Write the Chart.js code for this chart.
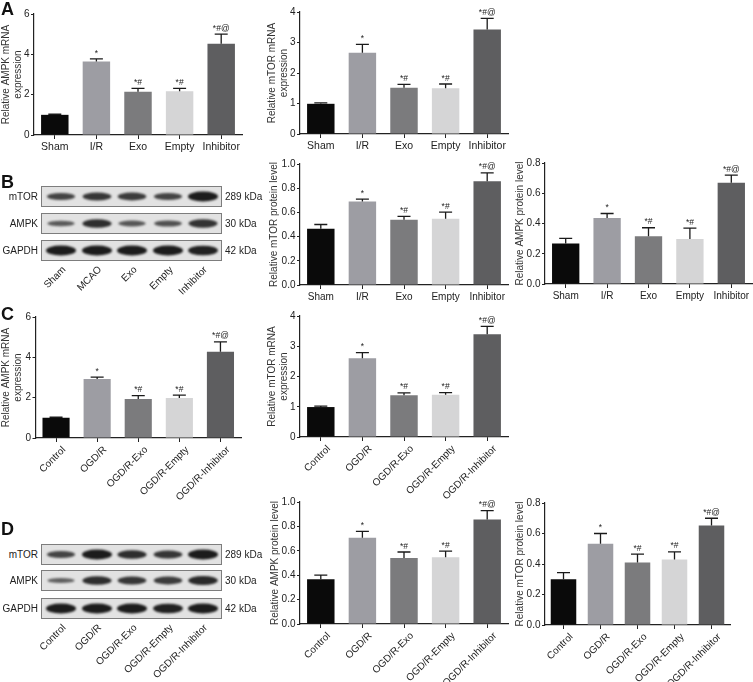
<!DOCTYPE html>
<html>
<head>
<meta charset="utf-8">
<script src="https://cdn.jsdelivr.net/npm/chart.js@4"></script>
<style>
  html, body { margin: 0; padding: 0; background: #fff; }
  #fig { position: relative; width: 753px; height: 682px; overflow: hidden;
         font-family: "Liberation Sans", Arial, sans-serif; color: #222; }
  #fig canvas { position: absolute; }
  .panel { position: absolute; font-weight: bold; font-size: 18px; line-height: 18px; color: #111; }
  .lbl { position: absolute; white-space: nowrap; font-size: 10px; line-height: 12px; color: #222; }
  .lane { position: absolute; white-space: nowrap; font-size: 10px; line-height: 12px; color: #222;
          transform-origin: 100% 50%; transform: rotate(-45deg); }
</style>
</head>
<body>
<div id="fig"></div>
<script>
'use strict';

// groups
const vivoGroups  = ['Sham', 'I/R', 'Exo', 'Empty', 'Inhibitor'];
const vitroGroups = ['Control', 'OGD/R', 'OGD/R-Exo', 'OGD/R-Empty', 'OGD/R-Inhibitor'];
const blotLanesB  = ['Sham', 'MCAO', 'Exo', 'Empty', 'Inhibitor'];
const marks       = ['', '*', '*#', '*#', '*#@'];

// A: in vivo mRNA
const ampkMrnaVivo    = [1.0, 3.65, 2.15, 2.17, 4.52];
const ampkMrnaVivoErr = [0.03, 0.12, 0.16, 0.14, 0.48];
const mtorMrnaVivo    = [0.99, 2.66, 1.52, 1.50, 3.43];
const mtorMrnaVivoErr = [0.03, 0.28, 0.11, 0.14, 0.36];

// B: in vivo protein
const mtorProtVivo    = [0.465, 0.69, 0.54, 0.548, 0.857];
const mtorProtVivoErr = [0.035, 0.02, 0.027, 0.055, 0.07];
const ampkProtVivo    = [0.268, 0.436, 0.316, 0.298, 0.67];
const ampkProtVivoErr = [0.033, 0.03, 0.056, 0.072, 0.05];

// C: in vitro mRNA
const ampkMrnaVitro    = [1.0, 2.93, 1.93, 1.98, 4.28];
const ampkMrnaVitroErr = [0.03, 0.09, 0.17, 0.15, 0.49];
const mtorMrnaVitro    = [0.99, 2.6, 1.38, 1.4, 3.4];
const mtorMrnaVitroErr = [0.03, 0.19, 0.08, 0.07, 0.26];

// D: in vitro protein
const ampkProtVitro    = [0.367, 0.707, 0.54, 0.548, 0.857];
const ampkProtVitroErr = [0.033, 0.053, 0.05, 0.049, 0.073];
const mtorProtVitro    = [0.30, 0.533, 0.41, 0.43, 0.653];
const mtorProtVitroErr = [0.044, 0.067, 0.055, 0.05, 0.047];

// blot band strength (0..1) per lane
const blotB = { mTOR: [0.55, 0.7, 0.65, 0.55, 1.0], AMPK: [0.3, 0.8, 0.35, 0.4, 0.75], GAPDH: [1, 1, 1, 1, 0.95] };
const blotD = { mTOR: [0.55, 1.0, 0.8, 0.7, 1.0], AMPK: [0.25, 0.8, 0.7, 0.65, 0.85], GAPDH: [1, 1, 1, 0.95, 1] };
const kda = ['289 kDa', '30 kDa', '42 kDa'];

const BAR_COLORS = ['#0a0a0a', '#9d9da3', '#7b7b7d', '#d5d5d6', '#5e5e60'];
const AXIS = '#222';
const FONT = '"Liberation Sans", Arial, sans-serif';
const fig = document.getElementById('fig');

const errorBars = {
  id: 'errorBars',
  afterDatasetsDraw(chart, args, opts) {
    const ctx = chart.ctx, y = chart.scales.y;
    const vals = chart.data.datasets[0].data;
    chart.getDatasetMeta(0).data.forEach((bar, i) => {
      const yTop = y.getPixelForValue(vals[i] + opts.errors[i]);
      ctx.save();
      ctx.strokeStyle = '#1a1a1a';
      ctx.lineWidth = 1.3;
      ctx.beginPath();
      ctx.moveTo(bar.x, bar.y);
      ctx.lineTo(bar.x, yTop);
      ctx.moveTo(bar.x - 6.5, yTop);
      ctx.lineTo(bar.x + 6.5, yTop);
      ctx.stroke();
      if (opts.marks[i]) {
        ctx.fillStyle = '#222';
        ctx.font = '8.5px ' + FONT;
        ctx.textAlign = 'center';
        ctx.textBaseline = 'bottom';
        ctx.fillText(opts.marks[i], bar.x, yTop - 1.5);
      }
      ctx.restore();
    });
  }
};

function barChart(cfg) {
  const padTop = 16, padRight = 6;
  const left = cfg.axisX - cfg.yw;
  const top = cfg.yTop - padTop;
  const w = Math.round(cfg.right - left + padRight);
  const h = Math.round(cfg.y0 - top + cfg.xh);
  const c = document.createElement('canvas');
  c.width = w; c.height = h;
  c.style.left = left + 'px'; c.style.top = top + 'px';
  c.style.width = w + 'px'; c.style.height = h + 'px';
  fig.appendChild(c);
  const rot = cfg.rot || 0;
  new Chart(c, {
    type: 'bar',
    data: {
      labels: cfg.labels,
      datasets: [{
        data: cfg.values,
        backgroundColor: BAR_COLORS,
        borderWidth: 0,
        barPercentage: cfg.barPct || 0.66,
        categoryPercentage: 1,
      }],
    },
    options: {
      responsive: false,
      animation: false,
      devicePixelRatio: 1,
      layout: { padding: { top: padTop, right: padRight, left: 0, bottom: 0 } },
      plugins: {
        legend: { display: false },
        tooltip: { enabled: false },
        errorBars: { errors: cfg.errors, marks: marks },
      },
      scales: {
        x: {
          grid: { offset: false, drawOnChartArea: false, tickLength: 4, color: AXIS, lineWidth: 1 },
          border: { color: AXIS, width: 1.2 },
          ticks: { color: '#222', font: { family: FONT, size: cfg.xFont || 10 }, padding: 2,
                   autoSkip: false, maxRotation: rot, minRotation: rot, labelOffset: rot ? 8 : 0 },
          afterFit: s => { s.height = cfg.xh; },
        },
        y: {
          min: 0, max: cfg.max,
          ticks: { stepSize: cfg.step, color: '#222', font: { family: FONT, size: 10 }, padding: 1.5,
                   callback: v => cfg.dec ? Number(v).toFixed(1) : v },
          grid: { drawOnChartArea: false, tickLength: 3, color: AXIS, lineWidth: 1 },
          border: { color: AXIS, width: 1.2 },
          title: { display: true, text: cfg.title, color: '#333',
                   font: { family: FONT, size: 10, lineHeight: 1.2 },
                   padding: { top: cfg.tpad, bottom: 0 } },
          afterFit: s => { s.width = cfg.yw; },
        },
      },
    },
    plugins: [errorBars],
  });
}

// A
barChart({ labels: vivoGroups, values: ampkMrnaVivo, errors: ampkMrnaVivoErr, title: ['Relative AMPK mRNA', 'expression'],
  axisX: 34, yTop: 13.5, y0: 134.3, right: 241.5, yw: 34, tpad: 0, xh: 24, max: 6, step: 2, xFont: 10.5 });
barChart({ labels: vivoGroups, values: mtorMrnaVivo, errors: mtorMrnaVivoErr, title: ['Relative mTOR mRNA', 'expression'],
  axisX: 300, yTop: 11.7, y0: 133.5, right: 507.5, yw: 34, tpad: 0, xh: 24, max: 4, step: 1, xFont: 10.5 });
// B
barChart({ labels: vivoGroups, values: mtorProtVivo, errors: mtorProtVivoErr, title: 'Relative mTOR protein level',
  axisX: 300, yTop: 163.5, y0: 284.3, right: 507.5, yw: 34, tpad: 2, xh: 24, max: 1, step: 0.2, dec: true });
barChart({ labels: vivoGroups, values: ampkProtVivo, errors: ampkProtVivoErr, title: 'Relative AMPK protein level',
  axisX: 545, yTop: 163.3, y0: 284.3, right: 751.5, yw: 34, tpad: 3, xh: 24, max: 0.8, step: 0.2, dec: true });
// C
barChart({ labels: vitroGroups, values: ampkMrnaVitro, errors: ampkMrnaVitroErr, title: ['Relative AMPK mRNA', 'expression'],
  axisX: 35.5, yTop: 317, y0: 438, right: 240.5, yw: 35.5, tpad: 0, xh: 72, rot: 45, max: 6, step: 2 });
barChart({ labels: vitroGroups, values: mtorMrnaVitro, errors: mtorMrnaVitroErr, title: ['Relative mTOR mRNA', 'expression'],
  axisX: 300, yTop: 316.3, y0: 437.3, right: 507.5, yw: 34, tpad: 0, xh: 72, rot: 45, max: 4, step: 1 });
// D
barChart({ labels: vitroGroups, values: ampkProtVitro, errors: ampkProtVitroErr, title: 'Relative AMPK protein level',
  axisX: 300, yTop: 501.7, y0: 623.3, right: 507.5, yw: 34, tpad: 3, xh: 62, rot: 45, max: 1, step: 0.2, dec: true });
barChart({ labels: vitroGroups, values: mtorProtVitro, errors: mtorProtVitroErr, title: 'Relative mTOR protein level',
  axisX: 545, yTop: 503.3, y0: 625, right: 730, yw: 34, tpad: 3, xh: 60, rot: 45, max: 0.8, step: 0.2, dec: true, barPct: 0.69 });

// panel letters
[['A', 0], ['B', 173], ['C', 305], ['D', 519.5]].forEach(([t, y]) => {
  const d = document.createElement('div');
  d.className = 'panel'; d.textContent = t;
  d.style.left = '1px'; d.style.top = y + 'px';
  fig.appendChild(d);
});

// western blots
function blot(bands, rowTops, lanes, laneY) {
  const x0 = 41, x1 = 222, rowH = 21;
  const laneX = [61, 97, 132, 168, 203];
  const top = rowTops[0] - 3, bottom = rowTops[2] + rowH + 3;
  const c = document.createElement('canvas');
  c.width = x1 - x0 + 4; c.height = bottom - top;
  c.style.left = (x0 - 2) + 'px'; c.style.top = top + 'px';
  fig.appendChild(c);
  const ctx = c.getContext('2d');
  Object.keys(bands).forEach((name, r) => {
    const ry0 = rowTops[r] - top;
    ctx.fillStyle = '#e2e2e2';
    ctx.fillRect(2, ry0, x1 - x0, rowH);
    ctx.strokeStyle = '#7d7d7d';
    ctx.lineWidth = 1;
    ctx.strokeRect(2.5, ry0 + 0.5, x1 - x0 - 1, rowH - 1);
    bands[name].forEach((s, i) => {
      ctx.save();
      ctx.filter = 'blur(1.3px)';
      ctx.globalAlpha = 0.55 + 0.45 * s;
      ctx.fillStyle = '#1c1c1c';
      ctx.beginPath();
      ctx.ellipse(laneX[i] - x0 + 2, ry0 + rowH / 2, 13 + 2 * s, 1.8 + 3.2 * s, 0, 0, Math.PI * 2);
      ctx.fill();
      ctx.restore();
    });
    const lab = document.createElement('div');
    lab.className = 'lbl'; lab.textContent = name;
    lab.style.right = (753 - 38) + 'px'; lab.style.top = (rowTops[r] + rowH / 2 - 6) + 'px';
    fig.appendChild(lab);
    const k = document.createElement('div');
    k.className = 'lbl'; k.textContent = kda[r];
    k.style.left = '225px'; k.style.top = (rowTops[r] + rowH / 2 - 6) + 'px';
    fig.appendChild(k);
  });
  lanes.forEach((t, i) => {
    const d = document.createElement('div');
    d.className = 'lane'; d.textContent = t;
    d.style.right = (753 - laneX[i] - 3) + 'px'; d.style.top = (laneY - 6) + 'px';
    fig.appendChild(d);
  });
}

blot(blotB, [186, 213, 240], blotLanesB, 268);
blot(blotD, [544, 570, 598], vitroGroups, 626);
</script>
</body>
</html>
